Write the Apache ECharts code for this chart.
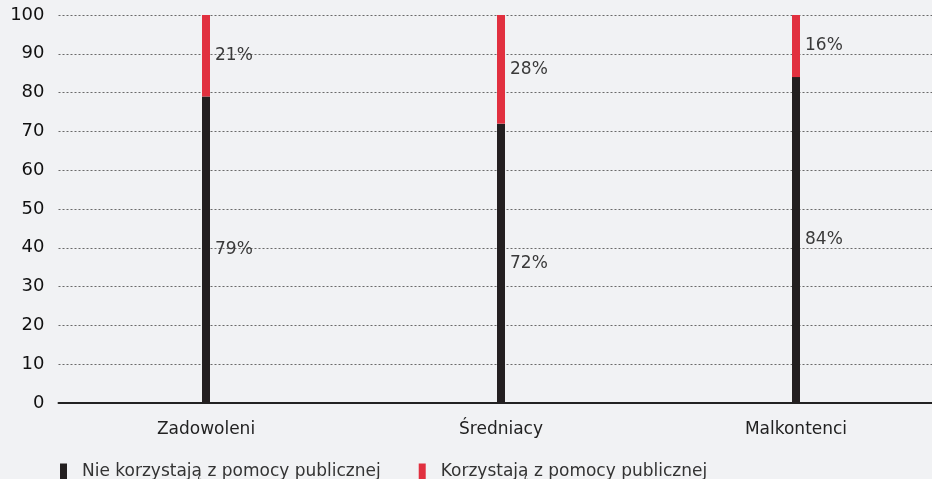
<!DOCTYPE html>
<html>
<head>
<meta charset="utf-8">
<script src="https://cdn.jsdelivr.net/npm/echarts@6/dist/echarts.min.js"></script>
<style>
  html, body { margin: 0; padding: 0; background: #f1f2f4; }
  #chart { width: 932px; height: 479px; }
</style>
</head>
<body>
<div id="chart"></div>
<script>
// Groups of respondents and the share in each that uses public support
const categories = ['Zadowoleni', 'Średniacy', 'Malkontenci'];
const notUsing = [79, 72, 84];
const using = [21, 28, 16];
const seriesNames = ['Nie korzystają z pomocy publicznej', 'Korzystają z pomocy publicznej'];

const FONT = '"DejaVu Sans", sans-serif';

const labelStyle = {
  show: true,
  position: 'right',
  distance: 5,
  formatter: '{c}%',
  color: '#3a3a3a',
  fontSize: 17,
  fontFamily: FONT,
  fontWeight: 'normal'
};

const chart = echarts.init(document.getElementById('chart'), null, { renderer: 'canvas' });
chart.setOption({
  backgroundColor: '#f1f2f4',
  animation: false,
  // the plot runs a little past the right edge of the canvas
  grid: { left: 58.5, width: 885, top: 15, bottom: 76, containLabel: false, outerBoundsMode: 'none' },
  legend: {
    left: 60,
    top: 463,
    padding: 0,
    itemWidth: 7,
    itemHeight: 16,
    itemGap: 38,
    icon: 'rect',
    textStyle: { color: '#333', fontSize: 17, fontFamily: FONT, padding: [0, 0, 0, 10] },
    data: seriesNames
  },
  xAxis: {
    type: 'category',
    data: categories,
    axisLine: { lineStyle: { color: '#222', width: 2 } },
    axisTick: { show: false },
    axisLabel: { color: '#222', fontSize: 17, fontFamily: FONT, margin: 18 }
  },
  yAxis: {
    type: 'value',
    min: 0,
    max: 100,
    interval: 10,
    axisLine: { show: false },
    axisTick: { show: false },
    axisLabel: { color: '#111', fontSize: 18, fontFamily: FONT, margin: 14 },
    splitLine: { lineStyle: { color: '#6a6a6a', width: 1, type: [2, 2] } }
  },
  series: [
    {
      name: seriesNames[0],
      type: 'bar',
      stack: 'total',
      barWidth: 8,
      itemStyle: { color: '#231f20' },
      label: labelStyle,
      data: notUsing
    },
    {
      name: seriesNames[1],
      type: 'bar',
      stack: 'total',
      barWidth: 8,
      itemStyle: { color: '#e1303f' },
      label: labelStyle,
      data: using
    }
  ]
});
</script>
</body>
</html>
